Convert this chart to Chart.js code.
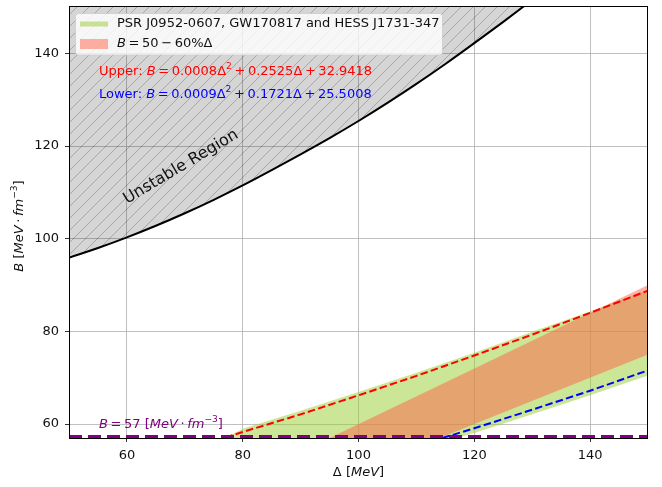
<!DOCTYPE html>
<html>
<head>
<meta charset="utf-8">
<script src="https://cdn.jsdelivr.net/npm/chart.js@4.4.1/dist/chart.umd.min.js"></script>
<style>
  body { margin: 0; background: #fff; }
  canvas { display: block; }
</style>
</head>
<body>
<canvas id="eosChart" width="662" height="487"></canvas>
<script>
// tick labels
const deltaTicks = [60, 80, 100, 120, 140];
const bTicks = [60, 80, 100, 120, 140];

// black boundary of the unstable region
const unstableDelta = [50, 55, 60, 65, 70, 75, 80, 85, 90, 95, 100, 105, 110, 115, 120, 125, 130];
const unstableB = [95.9, 98.0, 100.3, 102.8, 105.5, 108.4, 111.5, 114.8, 118.2, 121.7, 125.4, 129.3, 133.4, 137.7, 142.2, 146.8, 151.5];

// green band (PSR J0952-0607, GW170817 and HESS J1731-347)
const greenDelta = [77, 80, 90, 100, 110, 117, 120, 130, 140, 150];
const greenUpper = [57.0, 59.0, 62.9, 66.9, 71.1, 74.1, 75.4, 79.9, 84.3, 89.0];
const greenLower = [57.0, 57.0, 57.0, 57.0, 57.0, 57.0, 58.1, 62.1, 66.2, 70.5];

// orange band B = 50-60% Delta
const bandDelta = [95, 114, 150];
const bandUpper = [57, 68.4, 90];
const bandLower = [57, 57, 75];

// dashed fits
const upperDelta = [77, 80, 90, 100, 110, 120, 130, 140, 150];
const upperB = [57.1, 58.3, 62.1, 66.2, 70.4, 74.8, 79.3, 84.0, 88.8];
const lowerDelta = [114.5, 120, 130, 140, 150];
const lowerB = [57.0, 59.1, 63.1, 67.2, 71.6];

// B = 57 floor
const floorDelta = [50, 150];
const floorB = [57, 57];

const FONT = '"DejaVu Sans", sans-serif';
const pts = (xs, ys) => xs.map((x, i) => ({ x: x, y: ys[i] }));

function hatch() {
  const c = document.createElement("canvas");
  c.width = 12; c.height = 12;
  const g = c.getContext("2d");
  g.fillStyle = "rgba(0,0,0,0.165)";
  g.fillRect(0, 0, 12, 12);
  g.strokeStyle = "rgba(0,0,0,0.22)";
  g.lineWidth = 1;
  g.beginPath();
  g.moveTo(-1, 13); g.lineTo(13, -1);
  g.moveTo(-1, 1); g.lineTo(1, -1);
  g.moveTo(11, 13); g.lineTo(13, 11);
  g.stroke();
  return g.createPattern(c, "repeat");
}

function runsWidth(ctx, runs, size) {
  let w = 0;
  for (const r of runs) {
    const s = r.sup ? size * 0.7 : size;
    ctx.font = (r.it ? "italic " : "") + s + "px " + FONT;
    w += ctx.measureText(r.t).width;
  }
  return w;
}

function drawRuns(ctx, runs, x, y, size, color) {
  ctx.fillStyle = color;
  ctx.textBaseline = "middle";
  ctx.textAlign = "left";
  let cx = x;
  for (const r of runs) {
    const s = r.sup ? size * 0.7 : size;
    ctx.font = (r.it ? "italic " : "") + s + "px " + FONT;
    ctx.fillText(r.t, cx, y + (r.sup ? -size * 0.38 : 0));
    cx += ctx.measureText(r.t).width;
  }
}

const T = "\u2009";
const unitRuns = [
  { t: "[" }, { t: "MeV", it: true }, { t: T + "\u00b7" + T }, { t: "fm", it: true },
  { t: "\u22123", sup: true }, { t: "]" }
];

const annotations = {
  id: "annotations",
  afterDatasetsDraw(chart) {
    const ctx = chart.ctx;
    const a = chart.chartArea;
    ctx.save();

    // legend
    ctx.beginPath();
    ctx.roundRect(75.5, 13.5, 367, 41.5, 3);
    ctx.fillStyle = "rgba(255,255,255,0.8)";
    ctx.fill();
    ctx.strokeStyle = "rgba(204,204,204,0.8)";
    ctx.lineWidth = 1;
    ctx.stroke();
    ctx.strokeStyle = "rgba(154,205,50,0.5)";
    ctx.lineWidth = 5;
    ctx.beginPath(); ctx.moveTo(80, 24); ctx.lineTo(108, 24); ctx.stroke();
    ctx.fillStyle = "rgba(255,99,71,0.5)";
    ctx.fillRect(80, 39, 28, 10);
    drawRuns(ctx, [{ t: "PSR J0952-0607, GW170817 and HESS J1731-347" }], 117, 24, 13, "#111");
    drawRuns(ctx, [{ t: "B", it: true }, { t: T + "=" + T + "50" + T + "\u2212" + T + "60%\u0394" }], 117, 43.5, 13, "#111");

    // fit formulas
    drawRuns(ctx, [
      { t: "Upper: " }, { t: "B", it: true }, { t: T + "=" + T + "0.0008\u0394" }, { t: "2", sup: true },
      { t: T + "+" + T + "0.2525\u0394" + T + "+" + T + "32.9418" }
    ], 99, 72, 13, "#ff0000");
    drawRuns(ctx, [
      { t: "Lower: " }, { t: "B", it: true }, { t: T + "=" + T + "0.0009\u0394" }, { t: "2", sup: true },
      { t: T + "+" + T + "0.1721\u0394" + T + "+" + T + "25.5008" }
    ], 99, 94.5, 13, "#0000ff");

    // floor label
    drawRuns(ctx, [{ t: "B", it: true }, { t: T + "=" + T + "57 " }].concat(unitRuns), 99, 425, 13, "#800080");

    // unstable region label
    ctx.translate(181, 167);
    ctx.rotate(-30.8 * Math.PI / 180);
    ctx.font = "16px " + FONT;
    ctx.fillStyle = "#111";
    ctx.textAlign = "center";
    ctx.textBaseline = "middle";
    ctx.fillText("Unstable Region", 0, 0);
    ctx.restore();

    // spines
    ctx.save();
    ctx.strokeStyle = "#000";
    ctx.lineWidth = 1;
    ctx.strokeRect(Math.round(a.left) + 0.5, Math.round(a.top) - 0.5, Math.round(a.right - a.left) - 1, Math.round(a.bottom - a.top) + 1);

    // axis titles
    const xr = [{ t: "\u0394 " }].concat(unitRuns.slice(0, 2), [{ t: "]" }]);
    const xw = runsWidth(ctx, xr, 13);
    drawRuns(ctx, xr, (a.left + a.right) / 2 - xw / 2, 473, 13, "#111");
    const yr = [{ t: "B", it: true }, { t: " " }].concat(unitRuns);
    const yw = runsWidth(ctx, yr, 13);
    ctx.translate(20, 226);
    ctx.rotate(-Math.PI / 2);
    drawRuns(ctx, yr, -yw / 2, 0, 13, "#111");
    ctx.restore();
  }
};

new Chart(document.getElementById("eosChart"), {
  type: "line",
  data: {
    datasets: [
      {
        data: pts(unstableDelta, unstableB),
        borderColor: "#000", borderWidth: 2, pointRadius: 0,
        cubicInterpolationMode: "monotone",
        fill: "end", backgroundColor: hatch(), order: 10, clip: 0
      },
      {
        data: pts(greenDelta, greenLower),
        borderWidth: 0, pointRadius: 0, fill: false, order: 8, clip: 0
      },
      {
        data: pts(greenDelta, greenUpper),
        borderWidth: 0, pointRadius: 0, fill: 1,
        backgroundColor: "rgba(154,205,50,0.5)", order: 8, clip: 0
      },
      {
        data: pts(bandDelta, bandLower),
        borderWidth: 0, pointRadius: 0, fill: false, order: 6, clip: 0
      },
      {
        data: pts(bandDelta, bandUpper),
        borderWidth: 0, pointRadius: 0, fill: 3,
        backgroundColor: "rgba(255,99,71,0.5)", order: 6, clip: 0
      },
      {
        data: pts(upperDelta, upperB),
        borderColor: "#ff0000", borderWidth: 2, borderDash: [7.5, 3.3],
        pointRadius: 0, fill: false, order: 4, clip: 0
      },
      {
        data: pts(lowerDelta, lowerB),
        borderColor: "#0000ff", borderWidth: 2, borderDash: [7.5, 3.3],
        pointRadius: 0, fill: false, order: 4, clip: 0
      },
      {
        data: pts(floorDelta, floorB),
        borderColor: "#800080", borderWidth: 6, borderDash: [13, 6],
        pointRadius: 0, fill: false, order: 2, clip: 0
      }
    ]
  },
  options: {
    responsive: false,
    animation: false,
    layout: { padding: { left: 0, top: 7, right: 14, bottom: 0 } },
    plugins: { legend: { display: false }, tooltip: { enabled: false } },
    scales: {
      x: {
        type: "linear", min: 50, max: 150,
        afterBuildTicks: s => { s.ticks = deltaTicks.map(v => ({ value: v })); },
        afterFit: s => { s.height = 49; s.paddingLeft = 0; s.paddingRight = 0; },
        grid: { color: "#b0b0b0", lineWidth: 0.8, tickColor: "#000", tickLength: 4 },
        border: { display: false },
        ticks: { font: { family: "DejaVu Sans", size: 13 }, color: "#111", padding: 6, maxRotation: 0 }
      },
      y: {
        type: "linear", min: 57, max: 150,
        afterBuildTicks: s => { s.ticks = bTicks.map(v => ({ value: v })); },
        afterFit: s => { s.width = 69; s.paddingTop = 0; s.paddingBottom = 0; },
        grid: { color: "#b0b0b0", lineWidth: 0.8, tickColor: "#000", tickLength: 4 },
        border: { display: false },
        ticks: { font: { family: "DejaVu Sans", size: 13 }, color: "#111", padding: 6 }
      }
    }
  },
  plugins: [annotations]
});
</script>
</body>
</html>
